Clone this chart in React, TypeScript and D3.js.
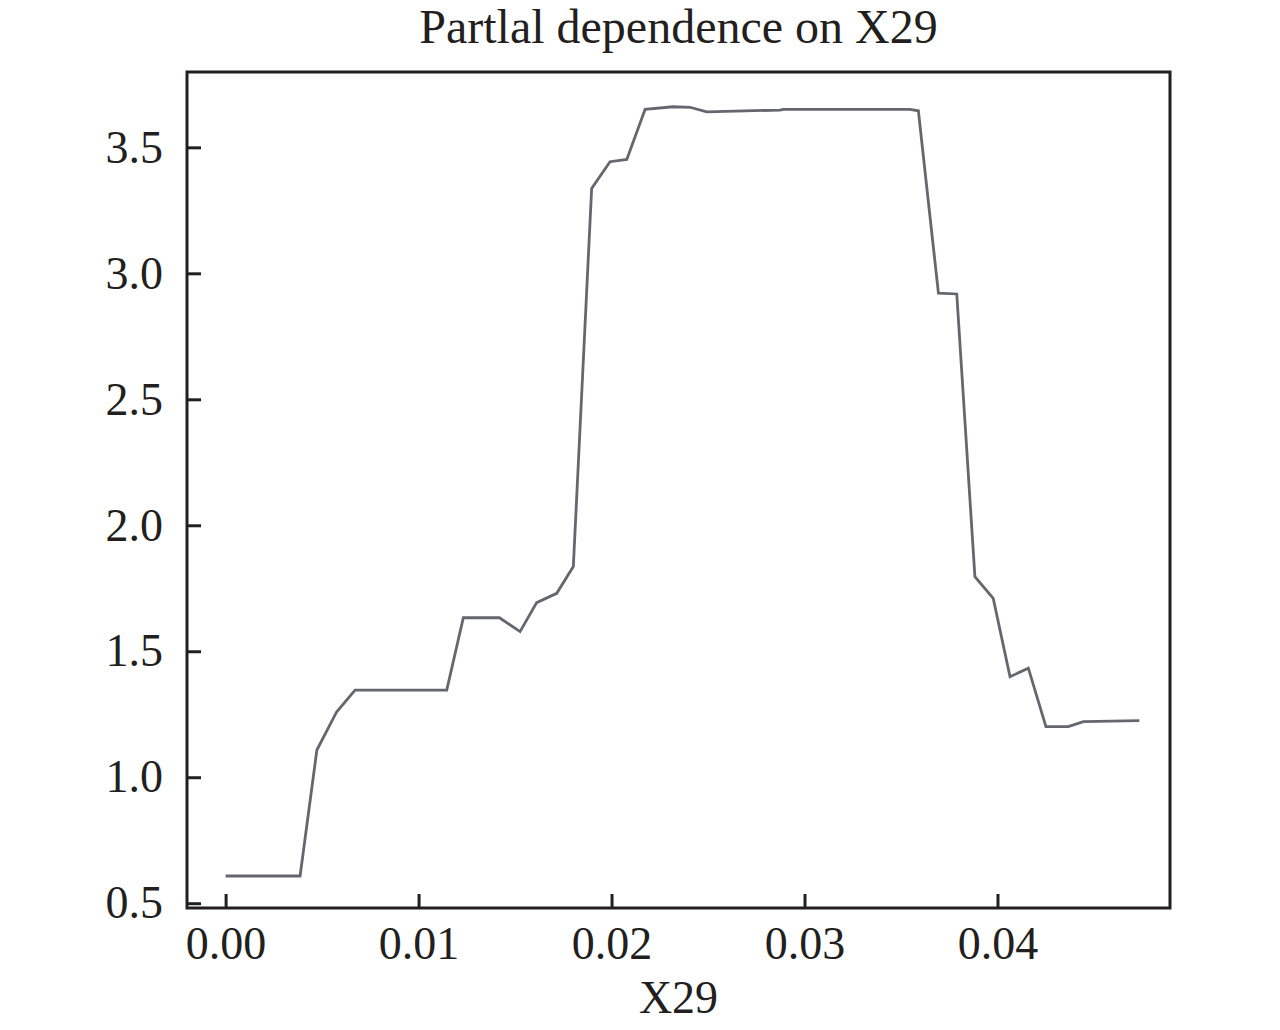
import React, { useEffect, useRef } from "react";
import * as d3 from "d3";

// partial dependence curve
const xValues = [
  0.0, 0.00386, 0.00473, 0.00576, 0.00671, 0.01146, 0.01232, 0.01419, 0.01526,
  0.01612, 0.01716, 0.01802, 0.01897, 0.01992, 0.02079, 0.02174, 0.0232, 0.02407,
  0.02493, 0.02873, 0.0289, 0.03546, 0.0359, 0.03694, 0.03789, 0.03883, 0.03978,
  0.04065, 0.0416, 0.04251, 0.04367, 0.04445, 0.04735,
];
const yValues = [
  0.608, 0.608, 1.108, 1.26, 1.346, 1.346, 1.633, 1.633, 1.578, 1.693, 1.73, 1.836,
  3.337, 3.443, 3.452, 3.651, 3.661, 3.659, 3.641, 3.648, 3.651, 3.651, 3.645,
  2.921, 2.918, 1.796, 1.71, 1.399, 1.433, 1.201, 1.201, 1.221, 1.225,
];
const xTicks = [0.0, 0.01, 0.02, 0.03, 0.04];
const yTicks = [0.5, 1.0, 1.5, 2.0, 2.5, 3.0, 3.5];
const title = "Partlal dependence on X29";
const xLabel = "X29";

const WIDTH = 1280;
const HEIGHT = 1030;

export default function App() {
  const svgRef = useRef<SVGSVGElement | null>(null);

  useEffect(() => {
    if (!svgRef.current) return;
    const svg = d3.select(svgRef.current);
    svg.selectAll("*").remove();

    const margin = { top: 72, right: 110, bottom: 122, left: 187 };
    const w = WIDTH - margin.left - margin.right;
    const h = HEIGHT - margin.top - margin.bottom;
    const font = "'Liberation Serif', 'Times New Roman', serif";

    const x = d3.scaleLinear().domain([-0.002, 0.04894]).range([0, w]);
    const y = d3.scaleLinear().domain([0.481, 3.799]).range([h, 0]);

    const g = svg
      .append("g")
      .attr("transform", `translate(${margin.left},${margin.top})`);

    // x axis, ticks pointing inward
    const xAxis = g
      .append("g")
      .attr("transform", `translate(0,${h})`)
      .call(
        d3
          .axisBottom(x)
          .tickValues(xTicks)
          .tickFormat(d3.format(".2f"))
          .tickSizeInner(-14)
          .tickSizeOuter(0)
          .tickPadding(18)
      );
    xAxis.select(".domain").remove();
    xAxis.selectAll("line").attr("stroke", "#231f20").attr("stroke-width", 3);
    xAxis
      .selectAll("text")
      .attr("fill", "#231f20")
      .style("font-family", font)
      .style("font-size", "46px");

    const yAxis = g.append("g").call(
      d3
        .axisLeft(y)
        .tickValues(yTicks)
        .tickFormat(d3.format(".1f"))
        .tickSizeInner(-14)
        .tickSizeOuter(0)
        .tickPadding(24)
    );
    yAxis.select(".domain").remove();
    yAxis.selectAll("line").attr("stroke", "#231f20").attr("stroke-width", 3);
    yAxis
      .selectAll("text")
      .attr("fill", "#231f20")
      .style("font-family", font)
      .style("font-size", "46px");

    // the curve
    const line = d3
      .line<number>()
      .x((_, i) => x(xValues[i]))
      .y((d) => y(d));

    g.append("path")
      .datum(yValues)
      .attr("d", line)
      .attr("fill", "none")
      .attr("stroke", "#66666e")
      .attr("stroke-width", 2.8)
      .attr("stroke-linejoin", "miter");

    // frame
    g.append("rect")
      .attr("x", 0)
      .attr("y", 0)
      .attr("width", w)
      .attr("height", h)
      .attr("fill", "none")
      .attr("stroke", "#231f20")
      .attr("stroke-width", 3);

    svg
      .append("text")
      .attr("x", margin.left + w / 2)
      .attr("y", 43)
      .attr("text-anchor", "middle")
      .attr("fill", "#231f20")
      .style("font-family", font)
      .style("font-size", "48px")
      .text(title);

    svg
      .append("text")
      .attr("x", margin.left + w / 2)
      .attr("y", 1013)
      .attr("text-anchor", "middle")
      .attr("fill", "#231f20")
      .style("font-family", font)
      .style("font-size", "46px")
      .text(xLabel);
  }, []);

  return (
    <div style={{ position: "absolute", left: 0, top: 0, background: "#fff" }}>
      <svg ref={svgRef} width={WIDTH} height={HEIGHT} style={{ display: "block" }} />
    </div>
  );
}
